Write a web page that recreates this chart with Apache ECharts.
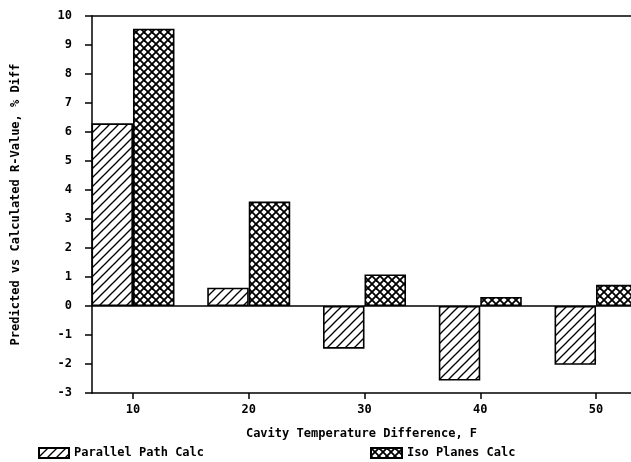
<!DOCTYPE html>
<html>
<head>
<meta charset="utf-8">
<script src="https://cdn.jsdelivr.net/npm/echarts@6/dist/echarts.min.js"></script>
<style>html,body{margin:0;padding:0;background:#fff;}#c{width:631px;height:462px;}</style>
</head>
<body>
<div id="c"></div>
<script>
// Data
var categories = [10, 20, 30, 40, 50];
var parallelPath = [6.30, 0.63, -1.47, -2.57, -2.03];
var isoPlanes = [9.56, 3.60, 1.09, 0.31, 0.73];
var yTicks = [-3, -2, -1, 0, 1, 2, 3, 4, 5, 6, 7, 8, 9, 10];

function hatch(size, cross, lw) {
  var c = document.createElement('canvas');
  c.width = size; c.height = size;
  var g = c.getContext('2d');
  g.fillStyle = '#fff'; g.fillRect(0, 0, size, size);
  g.strokeStyle = '#000'; g.lineWidth = lw; g.lineCap = 'square';
  function seg(x1, y1, x2, y2) { g.beginPath(); g.moveTo(x1, y1); g.lineTo(x2, y2); g.stroke(); }
  seg(0, size, size, 0); seg(-size, size, 0, 0); seg(0, 2 * size, 2 * size, 0);
  if (cross) {
    seg(0, 0, size, size); seg(-size, 0, size, 2 * size); seg(0, -size, 2 * size, size);
  }
  return c;
}
var pPat = { image: hatch(9, false, 1.3), repeat: 'repeat' };
var iPat = { image: hatch(8, true, 1.8), repeat: 'repeat' };

var font = '"DejaVu Sans Mono", monospace';
var txt = { color: '#000', fontFamily: font, fontWeight: 'bold', fontSize: 12 };
var xMin = 6.46, xMax = 53.02;

var chart = echarts.init(document.getElementById('c'), null, { renderer: 'canvas' });
chart.setOption({
  animation: false,
  backgroundColor: '#fff',
  grid: { left: 92, right: 0, top: 16, bottom: 69, show: false },
  legend: [
    { data: ['Parallel Path Calc'], left: 38, top: 447, padding: 0, itemWidth: 30, itemHeight: 10, itemGap: 6,
      textStyle: txt, icon: 'rect' },
    { data: ['Iso Planes Calc'], left: 370, top: 447, padding: 0, itemWidth: 31, itemHeight: 10, itemGap: 6,
      textStyle: txt, icon: 'rect' }
  ],
  xAxis: [{
    type: 'value', min: xMin, max: xMax, position: 'bottom',
    name: 'Cavity Temperature Difference, F', nameLocation: 'middle', nameGap: 35,
    nameTextStyle: txt,
    axisLine: { onZero: false, lineStyle: { color: '#000', width: 1.5 } },
    axisTick: { show: true, length: 6, customValues: categories, lineStyle: { color: '#000', width: 1.5 } },
    axisLabel: { customValues: categories, margin: 11, color: '#000', fontFamily: font, fontWeight: 'bold', fontSize: 12 },
    splitLine: { show: false }
  }, {
    type: 'value', min: xMin, max: xMax, position: 'top',
    axisLine: { show: true, onZero: false, lineStyle: { color: '#000', width: 1.5 } },
    axisTick: { show: false }, axisLabel: { show: false }, splitLine: { show: false }
  }],
  yAxis: {
    type: 'value', min: -3, max: 10, interval: 1,
    name: 'Predicted vs Calculated R-Value, % Diff', nameLocation: 'middle', nameRotate: 90, nameGap: 70,
    nameTextStyle: txt,
    axisLine: { show: true, lineStyle: { color: '#000', width: 1.5 } },
    axisTick: { show: true, length: 7, lineStyle: { color: '#000', width: 1.5 } },
    axisLabel: { margin: 20, color: '#000', fontFamily: font, fontWeight: 'bold', fontSize: 12,
      formatter: function (v) { return yTicks.indexOf(v) >= 0 ? String(v) : ''; } },
    splitLine: { show: false }
  },
  series: [
    {
      name: 'Parallel Path Calc', type: 'bar', barWidth: 41.5, barGap: '0%', xAxisIndex: 0,
      data: categories.map(function (c, i) { return [c, parallelPath[i]]; }),
      itemStyle: { color: pPat, borderColor: '#000', borderWidth: 1.6 },
      markLine: { silent: true, symbol: ['none', 'none'], label: { show: false },
        lineStyle: { color: '#000', type: 'solid', width: 1.5 }, data: [{ yAxis: 0 }] }
    },
    {
      name: 'Iso Planes Calc', type: 'bar', barWidth: 41.5, barGap: '0%', xAxisIndex: 0,
      data: categories.map(function (c, i) { return [c, isoPlanes[i]]; }),
      itemStyle: { color: iPat, borderColor: '#000', borderWidth: 1.6 }
    }
  ]
});
</script>
</body>
</html>
